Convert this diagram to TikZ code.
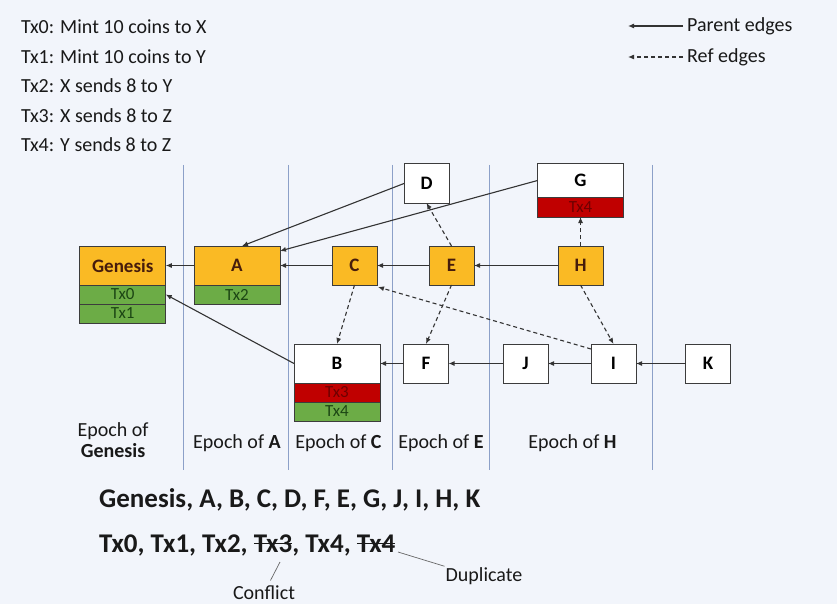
\documentclass[tikz,border=0pt]{standalone}
\usepackage{fontspec}
\setmainfont{Carlito}
\usetikzlibrary{arrows.meta,positioning}

\newcommand{\txstrike}[1]{\setbox0\hbox{#1}\rlap{\raisebox{0.3em}{\rule{\wd0}{1.3pt}}}\box0}

\definecolor{bgcol}{RGB}{242,245,251}
\definecolor{goldfill}{RGB}{250,186,36}
\definecolor{goldtext}{RGB}{70,28,12}
\definecolor{txgreen}{RGB}{108,172,70}
\definecolor{txgreentext}{RGB}{28,70,20}
\definecolor{txred}{RGB}{192,0,0}
\definecolor{txredtext}{RGB}{110,0,0}
\definecolor{boxline}{RGB}{60,60,60}
\definecolor{epochcol}{RGB}{140,160,200}

\tikzset{
	blk/.style={draw=boxline, line width=1pt, inner sep=0pt, outer sep=0pt,
		minimum height=39pt, font=\fontsize{19}{22}\selectfont\bfseries},
	gold/.style={blk, fill=goldfill, text=goldtext},
	plain/.style={blk, fill=white, text=black},
	narrow/.style={minimum width=45pt},
	wide/.style={minimum width=86pt},
	txrow/.style={draw=boxline, line width=1pt, inner sep=0pt, outer sep=0pt,
		minimum height=19pt, minimum width=86pt, font=\fontsize{17}{18}\selectfont},
	txok/.style={txrow, fill=txgreen, text=txgreentext},
	txbad/.style={txrow, fill=txred, text=txredtext},
	parent/.style={-{Latex[length=6pt,width=5pt]}, line width=1.1pt, draw=black!80},
	refedge/.style={parent, dash pattern=on 4pt off 3pt},
	txt/.style={font=\fontsize{20}{21}\selectfont, text=black!90, inner sep=1pt},
	note/.style={draw=black!60, line width=0.7pt},
	epochline/.style={draw=epochcol, line width=1pt},
}

\begin{document}
\begin{tikzpicture}[x=1pt, y=-1pt]

	\fill[bgcol] (0,0) rectangle (837,604);

	% transactions
	\node[txt, anchor=west] (tx0) at (20,27) {Tx0: Mint 10 coins to X};
	\node[txt, anchor=west] (tx1) at (20,56.5) {Tx1: Mint 10 coins to Y};
	\node[txt, anchor=west] (tx2) at (20,86) {Tx2: X sends 8 to Y};
	\node[txt, anchor=west] (tx3) at (20,115.5) {Tx3: X sends 8 to Z};
	\node[txt, anchor=west] (tx4) at (20,145) {Tx4: Y sends 8 to Z};

	% legend
	\node[txt, anchor=west] (parentlab) at (686,26) {Parent edges};
	\node[txt, anchor=west] (reflab) at (686,57) {Ref edges};
	\coordinate (parenttip) at (628,26);
	\coordinate (reftip) at (628,57);
	\draw[parent, shorten <=3pt] (parentlab) -- (parenttip);
	\draw[refedge, shorten <=3pt] (reflab) -- (reftip);

	% epochs
	\foreach \x in {183,288,392,489,652}{
		\draw[epochline] (\x,165) -- (\x,470);
	}

	% blocks
	\node[gold, wide] (genesis) at (122.75,265.5) {Genesis};
	\node[txok, below=0pt of genesis] (gtx0) {Tx0};
	\node[txok, below=0pt of gtx0] (gtx1) {Tx1};

	\node[gold, wide] (A) at (237,265.5) {A};
	\node[txok, below=0pt of A] (atx2) {Tx2};

	\node[gold, narrow] (C) at (354.5,265.5) {C};
	\node[gold, narrow] (E) at (451.5,265.5) {E};
	\node[gold, narrow] (H) at (580.5,265.5) {H};

	\node[plain, narrow] (D) at (426.5,183.5) {D};
	\node[plain, wide, minimum height=33pt] (G) at (580.5,180.5) {G};
	\node[txbad, below=0pt of G, minimum height=20pt] (gtx4) {Tx4};

	\node[plain, wide] (B) at (337,363.5) {B};
	\node[txbad, below=0pt of B] (btx3) {Tx3};
	\node[txok, below=0pt of btx3] (btx4) {Tx4};

	\node[plain, narrow] (F) at (426,363.5) {F};
	\node[plain, narrow] (J) at (525.5,363.5) {J};
	\node[plain, narrow] (I) at (613.5,363.5) {I};
	\node[plain, narrow] (K) at (708,363.5) {K};

	% parent edges
	\draw[parent] (A) -- (genesis);
	\draw[parent] (C) -- (A);
	\draw[parent] (E) -- (C);
	\draw[parent] (H) -- (E);
	\draw[parent] (D.west) -- ([xshift=5pt]A.north);
	\draw[parent] (G.west) -- ([yshift=-5pt]A.north east);
	\draw[parent] (B.west) -- (gtx0.east);
	\draw[parent] (F) -- (B);
	\draw[parent] (J) -- (F);
	\draw[parent] (I) -- (J);
	\draw[parent] (K) -- (I);

	% ref edges
	\draw[refedge] (C.south) -- (B.north);
	\draw[refedge] (E.north) -- (D.south);
	\draw[refedge] (E.south) -- (F.north);
	\draw[refedge] (H.north) -- (gtx4.south);
	\draw[refedge] (H.south) -- (I.north);
	\draw[refedge] ([yshift=-5pt]I.north west) -- ([xshift=1pt,yshift=-2pt]C.south east);

	% epoch labels
	\node[txt, align=center] (epgenesis) at (113,440) {Epoch of\\\textbf{Genesis}};
	\node[txt] (epA) at (237,443) {Epoch of \textbf{A}};
	\node[txt] (epC) at (338.5,443) {Epoch of \textbf{C}};
	\node[txt] (epE) at (441,443) {Epoch of \textbf{E}};
	\node[txt] (epH) at (572.5,443) {Epoch of \textbf{H}};

	% final order
	\node[txt, anchor=west, font=\fontsize{27}{30}\selectfont\bfseries] (order) at (98,500)
		{Genesis, A, B, C, D, F, E, G, J, I, H, K};
	\node[txt, anchor=west, font=\fontsize{27}{30}\selectfont\bfseries] (txlist) at (98,545)
		{Tx0, Tx1, Tx2, \txstrike{Tx3}, Tx4, \txstrike{Tx4}};

	\node[txt] (conflict) at (264,593) {Conflict};
	\node[txt] (duplicate) at (484,576) {Duplicate};
	\coordinate (tx3mark) at (280,562);
	\coordinate (tx4mark) at (398,552);
	\draw[note, shorten >=5pt] (tx3mark) -- (conflict);
	\draw[note] (tx4mark) -- (duplicate.north west);

\end{tikzpicture}
\end{document}
